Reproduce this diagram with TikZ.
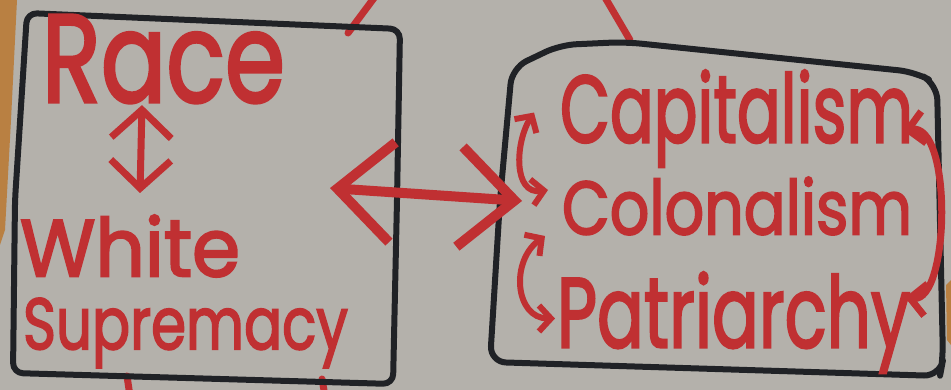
\documentclass[tikz,border=0pt]{standalone}
\usepackage{fontspec}
\setmainfont{Poppins}
\newfontfamily\handfont{Poppins}[FakeBold=2.6]
\usetikzlibrary{arrows.meta,calc}
\definecolor{board}{RGB}{180,177,171}
\definecolor{marker}{RGB}{192,48,50}
\definecolor{ink}{RGB}{32,34,38}
\definecolor{wood}{RGB}{185,128,66}
\newcommand{\hw}[3]{\resizebox*{#1pt}{#2pt}{\handfont #3}}
\begin{document}
\begin{tikzpicture}[x=1pt,y=-1pt,
  word/.style={anchor=north west, inner sep=0pt, outer sep=0pt, text=marker},
  frame/.style={draw=ink, line width=6pt, rounded corners=10pt, line join=round},
  link/.style={draw=marker, line width=7pt, line cap=round, line join=round},
  smallarrow/.style={link, line width=6pt, {Straight Barb[length=12pt,width=26pt]}-{Straight Barb[length=12pt,width=26pt]}},
  sidearrow/.style={link, {Straight Barb[length=16pt,width=32pt]}-{Straight Barb[length=16pt,width=32pt]}},
  midarrow/.style={link, {Straight Barb[length=28pt,width=60pt]}-{Straight Barb[length=28pt,width=60pt]}},
  bigarrow/.style={link, line width=10pt, {Straight Barb[length=55pt,width=100pt]}-{Straight Barb[length=55pt,width=100pt]}}
]
\fill[board] (0,0) rectangle (951,390);
\useasboundingbox (0,0) rectangle (951,390);
\fill[wood] (0,0) -- (17,0) -- (11,120) -- (5,230) -- (0,245) -- cycle;
\fill[wood] (946,285) -- (951,280) -- (951,345) -- (947,340) -- cycle;

% red lines leaving the picture
\draw[link] (377,-6) -- (348,33);
\draw[link] (603,-6) -- (630,40);
\draw[link] (127,376) -- (130,396);
\draw[link] (322,379) -- (325,396);

% boxes
\draw[frame] (27,13) -- (400,29) -- (397,200) -- (393,384) -- (13,373) -- (15,200) -- cycle;
\draw[frame, rounded corners=16pt] (490,362) -- (500,200) -- (512,68) -- (560,45) -- (625,42) -- (915,72) -- (937,84) -- (943,360) -- (940,376) -- cycle;

% words
\node[word] (race) at (42,15) {\hw{243}{88}{Race}};
\node[word] (white) at (20,215) {\hw{220}{62}{White}};
\node[word] (supr) at (23,298) {\hw{325}{70}{Supremacy}};
\node[word] (capital) at (560,70) {\hw{353}{97}{Capitalism}};
\node[word] (colon) at (562,177) {\hw{350}{58}{Colonalism}};
\node[word] (patri) at (557,272) {\hw{353}{101}{Patriarchy}};

% connectors
\draw[midarrow] ($(race.south west)+(100,2)$) -- ($(white.north west)+(120,-22)$);
\draw[bigarrow] ($(race.south east)+(45,85)$) -- ($(colon.west)+(-40,-5)$);
\draw[smallarrow] ($(capital.west)+(-26,-6)$) .. controls +(-19,30) and +(-35,5) .. ($(colon.west)+(-14,-16)$);
\draw[smallarrow] ($(colon.west)+(-17,30)$) .. controls +(-35,25) and +(-40,0) .. ($(patri.west)+(-2,-4)$);
\draw[sidearrow] ($(capital.east)+(-10,12)$) .. controls +(50,-8) and +(45,5) .. ($(patri.east)+(-5,-25)$);
\end{tikzpicture}
\end{document}
